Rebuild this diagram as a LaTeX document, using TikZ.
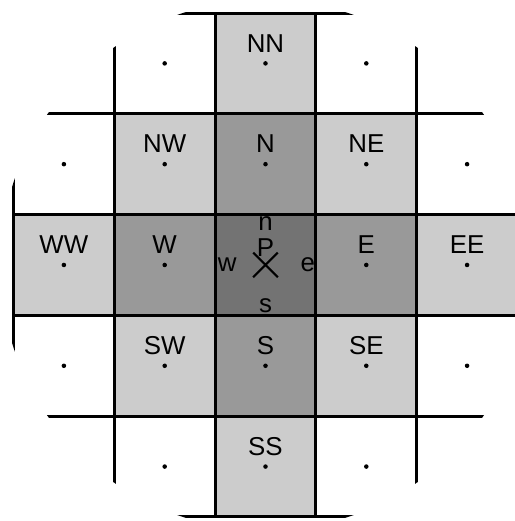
\documentclass[tikz,border=0pt]{standalone}
\usepackage{fontspec}
\setmainfont{Liberation Sans}
\usetikzlibrary{positioning}

\tikzset{
  dot/.style={circle, fill=black, inner sep=0pt, minimum size=0.045cm},
  lbl/.style={inner sep=0pt, font=\fontsize{7.3}{9}\selectfont},
  cellA/.style={fill=black!20},
  cellB/.style={fill=black!40},
  cellC/.style={fill=black!55},
}

\begin{document}
\begin{tikzpicture}
    \useasboundingbox (-2.634,-2.540) rectangle (2.475,2.629);

    % Cells and grid, cut by the circle
    \begin{scope}
        \clip (0,0) circle (2.63);
        \foreach \x/\y in {0/2, -1/1, 1/1, -2/0, 2/0, -1/-1, 1/-1, 0/-2}
            \fill[cellA] (\x-0.5,\y-0.5) rectangle ++(1,1);
        \foreach \x/\y in {0/1, -1/0, 1/0, 0/-1}
            \fill[cellB] (\x-0.5,\y-0.5) rectangle ++(1,1);
        \fill[cellC] (-0.5,-0.5) rectangle (0.5,0.5);
        \draw[line width=0.85pt, shift={(-0.5,-0.5)}] (-2,-2) grid (3,3);
    \end{scope}

    % Neighbour points
    \foreach \name/\x/\y in {NN/0/2, N/0/1, S/0/-1, SS/0/-2,
                             WW/-2/0, W/-1/0, E/1/0, EE/2/0,
                             NW/-1/1, NE/1/1, SW/-1/-1, SE/1/-1} {
        \node (\name) at (\x,\y) [dot] {};
        \node (t\name) at (\x,\y+0.2) [lbl] {\name};
    }
    \foreach \name/\x/\y in {a/-1/2, b/1/2, c/-2/1, d/2/1,
                             f/-2/-1, g/2/-1, h/-1/-2, i/1/-2}
        \node (\name) at (\x,\y) [dot] {};

    % Central point and faces
    \coordinate (P) at (0,0);
    \draw[line width=0.6pt] (-0.122,-0.122) -- (0.122,0.122)
                            (-0.122,0.122) -- (0.122,-0.122);
    \node (tP) at (0,0.17) [lbl] {P};
    \node (fn) at (0,0.41) [lbl] {n};
    \node (fs) at (0,-0.40) [lbl] {s};
    \node (fw) at (-0.38,0) [lbl] {w};
    \node (fe) at (0.42,0) [lbl] {e};
\end{tikzpicture}
\end{document}
